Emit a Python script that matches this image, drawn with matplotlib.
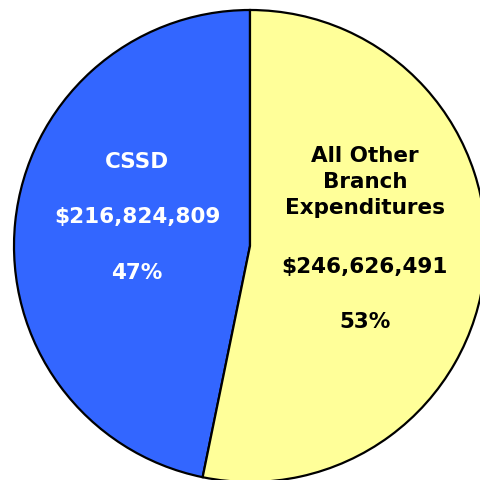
import matplotlib
matplotlib.use("Agg")
from matplotlib import pyplot as plt

# dados do grafico
categorias = ["CSSD", "All Other\nBranch\nExpenditures"]
valores = [216824809, 246626491]
percentuais = ["47%", "53%"]
cores = ["#3366FF", "#FFFF99"]
cores_texto = ["white", "black"]


def gerarGrafico():
    fig = plt.figure(figsize=(4.81, 4.80), dpi=100)
    # eixo posicionado para que o circulo fique como no original
    ax = fig.add_axes([14 / 481, -2 / 480, 472 / 481, 472 / 480])
    ax.pie(valores, colors=cores, startangle=90, counterclock=True, radius=1,
           wedgeprops={"edgecolor": "black", "linewidth": 1.6})
    ax.set_xlim(-1, 1)
    ax.set_ylim(-1, 1)
    ax.set_aspect("equal")
    ax.axis("off")

    # posicoes dos rotulos (nome, valor, percentual)
    pos = [[(-0.479, 0.356), (-0.479, 0.123), (-0.479, -0.114)],
           [(0.487, 0.271), (0.487, -0.089), (0.487, -0.322)]]
    for i in range(len(categorias)):
        textos = [categorias[i], "${:,}".format(valores[i]), percentuais[i]]
        for t, (x, y) in zip(textos, pos[i]):
            ax.text(x, y, t, ha="center", va="center", color=cores_texto[i],
                    fontsize=15.5, fontweight="bold", linespacing=1.4)

    fig.savefig("out.png", dpi=100)


gerarGrafico()
